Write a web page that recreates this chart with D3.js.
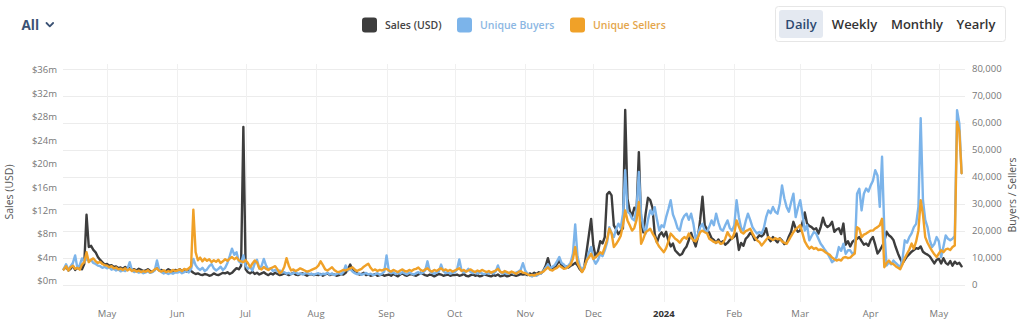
<!DOCTYPE html>
<html>
<head>
<meta charset="utf-8">
<script src="https://cdn.jsdelivr.net/npm/d3@7"></script>
<style>
  html, body { margin: 0; padding: 0; background: #fff; }
  svg { display: block; font-family: "Open Sans", sans-serif; }
</style>
</head>
<body>
<svg id="chart" width="1024" height="326"></svg>
<script>
// Daily series, one value per day starting 2023-04-12.
const firstDay = "2023-04-12";

// Sales volume, millions of USD per day
const salesUsdM = [
  // Apr 2023 (12-30)
  2.0, 2.4, 1.8, 2.1, 2.6, 1.9, 2.2, 2.5, 2.0, 2.9, 11.3, 5.8, 6.0, 5.3, 4.9, 4.1, 3.6, 3.2, 2.8,
  // May
  2.9, 2.6, 2.7, 2.4, 2.5, 2.2, 2.3, 2.1, 2.4, 2.0, 2.2, 1.9, 2.0, 1.8, 2.1, 1.9, 1.7, 1.8, 2.0, 1.7, 1.6, 1.9, 2.2, 1.8, 1.9, 1.6, 1.7, 2.0, 1.8, 1.6, 1.9,
  // Jun
  1.8, 2.0, 1.7, 1.9, 1.6, 1.8, 1.7, 1.4, 1.2, 1.3, 1.1, 1.0, 1.2, 1.1, 0.9, 1.0, 1.3, 1.1, 1.0, 1.2, 1.4, 1.3, 1.5, 1.2, 1.4, 1.8, 2.2, 2.0, 2.6, 26.3,
  // Jul
  2.0, 1.5, 1.3, 1.6, 1.2, 1.4, 1.1, 1.3, 1.5, 1.2, 1.0, 1.3, 1.1, 1.4, 1.2, 1.0, 1.1, 1.3, 1.2, 1.0, 1.2, 1.4, 1.1, 1.0, 1.2, 1.3, 1.1, 0.9, 1.1, 1.2, 1.0,
  // Aug
  1.1, 1.0, 1.2, 0.9, 1.1, 1.3, 1.0, 1.2, 1.1, 0.9, 1.0, 1.2, 1.1, 1.4, 2.0, 2.8, 1.9, 1.5, 1.3, 1.1, 1.2, 1.4, 1.0, 1.1, 0.9, 1.0, 1.2, 0.9, 1.0, 1.1, 0.9,
  // Sep
  1.0, 1.1, 0.9, 1.2, 1.0, 0.8, 1.1, 1.3, 1.0, 0.9, 1.1, 1.2, 1.0, 0.9, 1.1, 1.4, 1.2, 1.0, 0.9, 1.1, 1.0, 0.8, 1.0, 1.2, 1.1, 0.9, 1.0, 1.1, 0.9, 1.0,
  // Oct
  1.0, 1.1, 0.9, 1.0, 1.2, 0.9, 0.8, 1.0, 1.1, 0.9, 1.0, 0.8, 0.9, 1.1, 1.0, 0.9, 0.8, 1.0, 0.9, 1.1, 0.8, 0.9, 1.0, 0.8, 0.9, 1.1, 1.0, 0.9, 1.0, 1.2, 1.1,
  // Nov
  1.2, 1.0, 1.3, 1.1, 1.4, 1.2, 1.5, 1.3, 1.8, 2.6, 3.9, 2.4, 2.0, 2.3, 2.9, 3.5, 2.7, 2.2, 2.5, 2.3, 2.6, 2.8, 3.1, 2.7, 2.0, 1.6, 2.4, 5.0, 7.8, 10.6,
  // Dec
  6.0, 4.1, 5.0, 6.8, 6.4, 7.5, 14.8, 15.2, 14.6, 9.5, 8.8, 8.0, 8.5, 9.0, 29.2, 14.0, 12.0, 11.0, 12.5, 12.0, 22.0, 10.0, 8.3, 11.5, 14.2, 13.8, 12.5, 8.0, 6.6, 7.8, 8.3,
  // Jan 2024
  7.6, 8.4, 6.9, 5.9, 6.4, 5.2, 4.8, 4.4, 4.6, 5.4, 5.9, 7.0, 8.2, 7.0, 5.9, 7.5, 10.5, 14.4, 9.5, 8.8, 8.2, 7.3, 7.0, 6.5, 7.1, 6.4, 6.8, 6.2, 6.5, 7.0, 7.3,
  // Feb
  7.6, 8.1, 5.3, 6.5, 6.0, 7.2, 7.6, 8.2, 7.9, 7.0, 7.3, 7.8, 7.6, 8.0, 9.0, 7.3, 6.8, 7.5, 7.0, 6.6, 7.3, 6.9, 6.3, 6.5, 7.6, 8.4, 10.1, 9.0, 8.4,
  // Mar
  8.6, 10.0, 11.7, 9.8, 9.4, 9.2, 8.8, 9.0, 8.1, 9.2, 10.8, 9.6, 9.2, 9.5, 10.1, 8.4, 8.8, 9.0, 8.0, 9.8, 6.2, 6.8, 5.9, 6.7, 7.0, 7.2, 7.5, 6.8, 6.2, 6.4, 6.0,
  // Apr
  7.0, 7.5, 6.2, 4.7, 5.2, 5.9, 6.8, 8.4, 7.8, 7.5, 7.0, 5.8, 4.7, 3.8, 3.0, 3.6, 4.2, 4.6, 5.0, 5.3, 5.6, 5.5, 5.9, 5.0, 4.7, 4.5, 4.2, 3.6, 3.0, 3.6,
  // May (1-11)
  3.8, 3.0, 3.9, 3.1, 2.8, 3.4, 2.6, 3.3, 2.9, 3.1, 2.5
];

// Unique buyers per day, thousands
const uniqueBuyersK = [
  // Apr 2023
  5.8, 7.5, 5.4, 6.8, 8.0, 10.8, 6.0, 7.2, 9.7, 8.4, 9.5, 8.8, 9.2, 8.0, 7.6, 7.0, 6.8, 6.2, 6.5,
  // May
  6.0, 6.4, 5.5, 5.8, 5.2, 5.6, 4.9, 5.3, 5.0, 5.8, 8.3, 5.2, 4.6, 5.0, 4.4, 4.8, 4.2, 4.5, 4.9, 4.3, 4.6, 5.2, 8.9, 5.4, 4.6, 4.1, 4.4, 3.9, 4.3, 4.0, 4.5,
  // Jun
  4.4, 4.8, 4.2, 4.6, 5.0, 4.5, 5.8, 9.5, 7.2, 6.0, 5.4, 6.2, 5.0, 5.6, 6.8, 7.6, 6.0, 5.2, 5.8, 6.6, 5.4, 6.2, 8.0, 10.5, 13.3, 11.0, 12.0, 8.6, 8.0, 10.8,
  // Jul
  7.0, 5.8, 6.5, 5.2, 7.8, 9.2, 6.0, 6.8, 9.5, 7.0, 5.5, 6.0, 5.0, 5.4, 4.8, 5.2, 4.4, 4.6, 4.0, 4.3, 3.8, 4.2, 4.6, 3.9, 4.1, 3.7, 4.0, 4.4, 3.8, 4.0, 3.6,
  // Aug
  3.9, 4.2, 3.6, 4.0, 3.8, 4.4, 3.7, 4.1, 3.5, 3.9, 4.2, 3.8, 4.6, 7.1, 5.2, 5.8, 4.8, 4.2, 3.8, 4.1, 3.6, 3.9, 4.3, 3.7, 4.0, 3.5, 3.8, 4.2, 3.6, 4.0, 4.8,
  // Sep
  10.8, 5.0, 4.2, 4.5, 3.9, 4.3, 4.0, 4.6, 4.1, 3.8, 4.4, 4.0, 3.7, 4.2, 4.6, 4.0, 4.4, 5.2, 8.6, 5.0, 4.3, 4.0, 4.5, 4.8, 7.4, 5.0, 4.2, 4.6, 4.0, 4.3,
  // Oct
  4.5, 5.6, 9.3, 5.2, 4.4, 4.8, 5.8, 4.6, 4.2, 4.7, 4.0, 4.4, 4.1, 3.8, 4.3, 4.0, 4.5, 4.1, 4.8, 7.1, 4.6, 4.0, 4.3, 3.9, 4.2, 4.6, 4.0, 4.4, 4.8, 5.4, 7.9,
  // Nov
  5.2, 4.0, 3.4, 3.0, 3.6, 3.2, 3.8, 4.2, 5.0, 6.2, 7.5, 6.0, 6.6, 7.2, 8.6, 10.2, 8.0, 7.4, 6.5, 7.0, 8.2, 11.5, 22.3, 10.5, 7.0, 5.2, 6.8, 8.5, 11.8, 13.9,
  // Dec
  9.5, 7.7, 9.0, 11.4, 10.5, 12.7, 15.5, 21.3, 19.0, 17.6, 20.5, 22.6, 21.0, 26.0, 42.4, 27.0, 26.3, 24.5, 23.8, 28.0, 41.8, 26.0, 21.3, 18.9, 24.0, 27.5, 26.0, 28.7, 24.0, 20.0, 22.0,
  // Jan 2024
  21.3, 25.0, 28.0, 31.3, 26.0, 23.8, 21.0, 20.0, 23.8, 25.5, 26.3, 24.0, 26.3, 22.6, 17.0, 18.5, 21.3, 22.5, 20.0, 19.5, 21.5, 23.8, 22.0, 26.3, 23.0, 20.5, 20.0, 22.0, 23.8, 21.0, 20.0,
  // Feb
  22.0, 31.3, 25.0, 21.0, 20.0, 23.5, 26.3, 24.0, 21.3, 20.0, 18.9, 19.5, 18.9, 21.0, 25.0, 27.5, 26.5, 28.8, 27.0, 26.3, 30.0, 36.8, 32.0, 28.8, 27.0, 30.5, 33.7, 25.0, 28.5,
  // Mar
  31.3, 26.0, 20.0, 22.0, 16.4, 18.0, 19.5, 18.9, 17.0, 15.1, 14.0, 12.7, 11.5, 10.0, 8.3, 9.0, 10.2, 13.9, 12.5, 15.1, 11.4, 12.7, 12.7, 11.4, 12.0, 33.7, 35.5, 27.5, 33.7, 35.6, 34.5,
  // Apr
  36.8, 38.5, 42.4, 40.5, 28.8, 47.4, 20.0, 7.0, 8.2, 7.5, 8.9, 8.0, 7.2, 6.4, 9.5, 16.4, 15.5, 17.6, 19.0, 21.3, 22.5, 28.8, 61.7, 31.3, 24.0, 21.3, 16.5, 13.9, 15.0, 17.6,
  // May (1-11)
  16.0, 10.2, 14.0, 18.2, 17.0, 16.4, 17.0, 18.0, 64.7, 59.8, 41.3
];

// Unique sellers per day, thousands
const uniqueSellersK = [
  // Apr 2023
  5.6, 6.8, 5.2, 6.4, 7.0, 5.8, 6.2, 5.5, 7.4, 8.3, 12.0, 8.3, 9.2, 9.7, 8.6, 8.0, 8.4, 7.6, 7.2,
  // May
  7.0, 6.4, 6.8, 6.0, 6.3, 5.6, 5.9, 5.4, 6.0, 5.2, 5.8, 5.0, 5.4, 4.8, 5.2, 4.6, 5.0, 4.7, 5.3, 4.5, 4.9, 5.6, 6.0, 5.1, 4.8, 5.3, 4.6, 5.0, 4.7, 5.4, 5.0,
  // Jun
  5.2, 5.6, 5.0, 5.8, 5.4, 6.0, 6.8, 27.8, 12.0, 9.0, 10.0, 8.6, 9.6, 8.8, 9.4, 8.3, 9.0, 8.4, 9.2, 8.0, 8.6, 9.4, 8.8, 9.6, 10.2, 9.4, 10.0, 9.0, 8.6, 8.3,
  // Jul
  9.0, 8.0, 6.4, 7.8, 8.9, 8.2, 6.0, 5.6, 6.5, 5.8, 5.4, 6.0, 6.4, 6.8, 5.6, 4.2, 4.8, 6.5, 9.8, 7.0, 5.2, 5.6, 5.0, 5.4, 6.0, 5.6, 5.2, 4.8, 5.0, 5.4, 5.8,
  // Aug
  6.2, 7.0, 8.6, 7.2, 5.6, 5.2, 5.8, 6.4, 5.4, 4.8, 4.6, 5.0, 5.4, 5.2, 5.6, 6.0, 6.4, 5.6, 5.0, 5.4, 5.8, 6.6, 7.2, 7.7, 6.2, 5.2, 5.6, 5.0, 5.4, 5.2, 5.6,
  // Sep
  5.8, 5.2, 4.8, 5.4, 5.0, 4.6, 5.2, 5.6, 5.0, 4.8, 5.4, 5.0, 5.6, 5.8, 6.3, 5.4, 5.0, 5.6, 6.0, 5.2, 4.8, 5.4, 5.0, 5.6, 6.0, 5.2, 5.6, 5.0, 5.4, 4.8,
  // Oct
  5.2, 5.6, 6.0, 5.0, 5.4, 4.8, 5.2, 5.6, 5.0, 4.6, 5.2, 4.8, 5.4, 5.0, 4.6, 5.0, 4.4, 4.8, 5.2, 5.8, 4.8, 4.4, 5.0, 4.6, 4.2, 4.8, 4.4, 4.0, 4.6, 5.0, 4.4,
  // Nov
  4.2, 3.8, 3.4, 3.6, 3.3, 3.8, 4.0, 4.4, 4.8, 5.6, 6.4, 5.4, 5.2, 5.8, 6.2, 7.0, 6.4, 5.8, 6.0, 6.6, 7.4, 9.5, 13.9, 8.0, 6.2, 4.6, 6.0, 8.9, 10.0, 11.4,
  // Dec
  9.5, 10.2, 11.0, 12.0, 11.4, 13.9, 16.5, 20.7, 19.0, 13.9, 15.0, 16.4, 18.0, 22.0, 27.5, 23.8, 22.0, 20.0, 21.0, 24.0, 30.6, 15.1, 17.0, 19.4, 20.0, 20.7, 19.0, 17.6, 15.5, 14.0, 13.0,
  // Jan 2024
  12.0, 13.5, 16.0, 18.9, 18.0, 17.0, 16.4, 15.5, 16.8, 17.6, 17.0, 18.9, 17.5, 16.4, 16.0, 17.5, 19.5, 20.0, 19.4, 19.0, 17.0, 16.4, 15.8, 15.5, 16.0, 15.1, 15.4, 17.0, 19.4, 18.0, 17.0,
  // Feb
  19.0, 23.8, 21.5, 19.5, 18.9, 19.8, 20.2, 20.7, 19.0, 17.5, 16.4, 15.8, 14.5, 15.5, 16.6, 17.6, 17.0, 16.5, 17.2, 16.8, 17.0, 16.0, 15.5, 15.1, 16.5, 18.0, 19.4, 20.5, 21.2,
  // Mar
  22.0, 19.0, 16.0, 14.5, 13.3, 14.0, 13.2, 13.6, 12.8, 13.0, 12.7, 12.0, 11.5, 11.0, 10.0, 9.4, 8.9, 9.2, 8.9, 10.0, 10.2, 9.8, 10.0, 10.8, 11.5, 21.3, 20.6, 17.6, 18.5, 18.9, 19.5,
  // Apr
  20.0, 20.0, 20.8, 21.3, 22.0, 24.4, 6.4, 8.0, 8.9, 7.8, 7.6, 6.8, 6.2, 5.7, 7.5, 9.8, 11.4, 13.0, 15.2, 13.3, 16.0, 20.0, 31.3, 26.0, 17.6, 15.5, 13.9, 12.5, 11.2, 10.2,
  // May (1-11)
  11.5, 12.7, 12.0, 13.0, 13.3, 12.8, 13.9, 14.5, 60.4, 57.0, 41.3
];

const salesTicksM = [0, 4, 8, 12, 16, 20, 24, 28, 32, 36];
const countTicksK = [0, 10, 20, 30, 40, 50, 60, 70, 80];
const seriesNames = ["Sales (USD)", "Unique Buyers", "Unique Sellers"];
const seriesColors = ["#3d3d3d", "#7cb4ea", "#f0a128"];
const legendTextColors = ["#444444", "#8cb7e3", "#e4a64c"];
const periodButtons = ["Daily", "Weekly", "Monthly", "Yearly"];
const leftAxisTitle = "Sales (USD)";
const rightAxisTitle = "Buyers / Sellers";
const scopeLabel = "All";

const svg = d3.select("#chart");

const start = d3.utcParse("%Y-%m-%d")(firstDay);
const dates = salesUsdM.map((_, i) => d3.utcDay.offset(start, i));

const plot = { left: 63, right: 965, top: 69, bottom: 284.5 };

const x = d3.scaleUtc()
  .domain([dates[0], dates[dates.length - 1]])
  .range([63.8, 961.6]);
const ySales = d3.scaleLinear().domain([0, 36]).range([281, 70.1]);
const yCount = d3.scaleLinear().domain([0, 80]).range([plot.bottom, plot.top]);

// Grid: horizontal lines follow the right (count) axis, vertical lines at month starts
const monthTicks = x.ticks(d3.utcMonth.every(1));
svg.append("g").selectAll("line").data(countTicksK).join("line")
  .attr("x1", plot.left).attr("x2", plot.right)
  .attr("y1", d => Math.round(yCount(d)) + 0.5).attr("y2", d => Math.round(yCount(d)) + 0.5)
  .attr("stroke", "#ececec").attr("stroke-width", 1);
svg.append("g").selectAll("line").data(monthTicks).join("line")
  .attr("x1", d => Math.round(x(d)) + 0.5).attr("x2", d => Math.round(x(d)) + 0.5)
  .attr("y1", 64).attr("y2", 302)
  .attr("stroke", "#f0f0f0").attr("stroke-width", 1);

// Left axis labels
svg.append("g").selectAll("text").data(salesTicksM).join("text")
  .attr("x", 57).attr("y", d => ySales(d)).attr("dy", "0.35em")
  .attr("text-anchor", "end").attr("font-size", 9.5).attr("fill", "#777")
  .text(d => "$" + d + "m");

// Right axis labels
svg.append("g").selectAll("text").data(countTicksK).join("text")
  .attr("x", 972).attr("y", d => yCount(d)).attr("dy", "0.35em")
  .attr("text-anchor", "start").attr("font-size", 9.5).attr("fill", "#777")
  .text(d => d3.format(",")(d * 1000));

// Month labels (year shown at January)
svg.append("g").selectAll("text").data(monthTicks).join("text")
  .attr("x", d => x(d)).attr("y", 316.5)
  .attr("text-anchor", "middle").attr("font-size", 9.5)
  .attr("font-weight", d => d.getUTCMonth() === 0 ? 700 : 400)
  .attr("fill", d => d.getUTCMonth() === 0 ? "#333" : "#777")
  .text(d => d.getUTCMonth() === 0 ? d3.utcFormat("%Y")(d) : d3.utcFormat("%b")(d));

// Axis titles
svg.append("text")
  .attr("transform", "translate(13,192) rotate(-90)")
  .attr("text-anchor", "middle").attr("font-size", 10.5).attr("fill", "#555")
  .text(leftAxisTitle);
svg.append("text")
  .attr("transform", "translate(1016,195) rotate(-90)")
  .attr("text-anchor", "middle").attr("font-size", 10.5).attr("fill", "#555")
  .text(rightAxisTitle);

// Series lines
const seriesData = [
  { values: salesUsdM, y: ySales },
  { values: uniqueBuyersK, y: yCount },
  { values: uniqueSellersK, y: yCount }
];
const lines = svg.append("g");
seriesData.forEach((s, i) => {
  const line = d3.line()
    .x((d, j) => x(dates[j]))
    .y(d => s.y(d));
  lines.append("path")
    .attr("d", line(s.values))
    .attr("fill", "none")
    .attr("stroke", seriesColors[i])
    .attr("stroke-width", 2.4)
    .attr("stroke-linejoin", "round")
    .attr("stroke-linecap", "round");
});

// Legend
const legendX = [362, 457, 570];
const legend = svg.append("g");
seriesNames.forEach((name, i) => {
  legend.append("rect")
    .attr("x", legendX[i]).attr("y", 17.5).attr("width", 15).attr("height", 15)
    .attr("rx", 3).attr("fill", seriesColors[i]);
  legend.append("text")
    .attr("x", legendX[i] + 23).attr("y", 28.5)
    .attr("font-size", 10.5).attr("font-weight", 600)
    .attr("fill", legendTextColors[i]).text(name);
});

// Scope selector
svg.append("text")
  .attr("x", 21.5).attr("y", 29.5)
  .attr("font-size", 13.5).attr("font-weight", 700).attr("fill", "#3b5274")
  .text(scopeLabel);
svg.append("path")
  .attr("d", "M46.5,23 L49.8,26.3 L53.1,23")
  .attr("fill", "none").attr("stroke", "#3b5274").attr("stroke-width", 1.8)
  .attr("stroke-linecap", "round").attr("stroke-linejoin", "round");

// Period buttons
const btn = svg.append("g");
btn.append("rect")
  .attr("x", 775.5).attr("y", 6.5).attr("width", 230).attr("height", 35)
  .attr("rx", 3).attr("fill", "#fff").attr("stroke", "#e6e6e6");
btn.append("rect")
  .attr("x", 779).attr("y", 10).attr("width", 44).attr("height", 28)
  .attr("rx", 3).attr("fill", "#e4e9f1");
const btnX = [801, 854.5, 917, 976];
periodButtons.forEach((label, i) => {
  btn.append("text")
    .attr("x", btnX[i]).attr("y", 29)
    .attr("text-anchor", "middle")
    .attr("font-size", 13).attr("font-weight", 600)
    .attr("fill", i === 0 ? "#2d4a70" : "#333")
    .text(label);
});
</script>
</body>
</html>
